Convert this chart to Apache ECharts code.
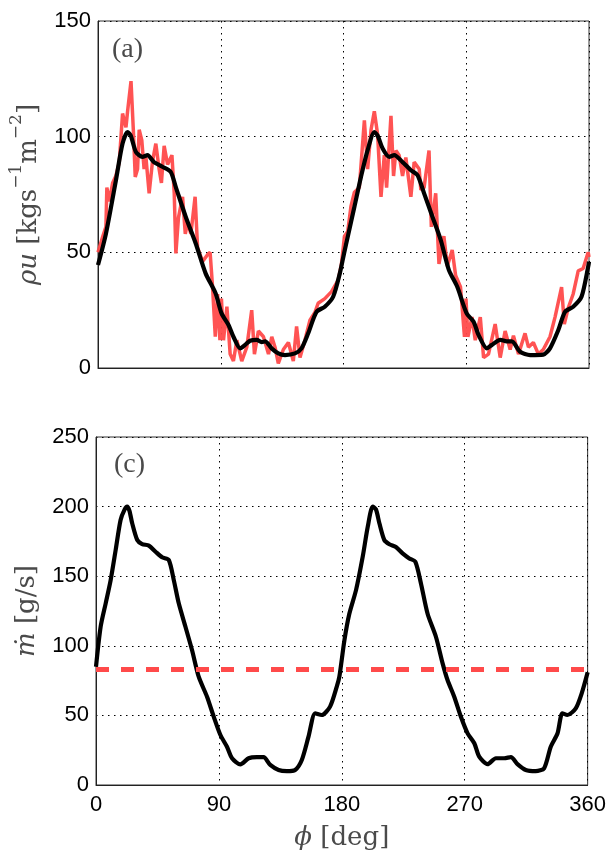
<!DOCTYPE html>
<html>
<head>
<meta charset="utf-8">
<script src="https://cdn.jsdelivr.net/npm/echarts@6/dist/echarts.min.js"></script>
<style>
  html, body { margin: 0; padding: 0; background: #fff; }
  #chart { width: 609px; height: 853px; }
</style>
</head>
<body>
<div id="chart"></div>
<script>
// panel (a): rho*u, raw (red) and filtered (black)
const rawPhi = [0, 3.4, 5.8, 6.5, 8.3, 10.7, 13.1, 15.6, 18, 20.5, 21.7, 24.2, 25.9, 27.3, 29, 30.2, 32.1, 33.8, 35, 37.5,
  39.9, 42.4, 44.8, 46.5, 48.5, 51, 54.2, 55.9, 57.1, 59, 62, 64, 65.7, 68.1, 71.2, 73, 76.7, 80.3, 82.2, 84,
  86, 87.7, 89.4, 90.5, 92, 94.5, 96.9, 99.3, 101.8, 105.4, 109.1, 112.7, 114.7, 117.6, 121.3, 125, 127.4, 129.8, 132.2, 135.9,
  139.6, 143.2, 145.6, 148.1, 151.7, 155.4, 159, 161.4, 166.3, 171.2, 176.1, 178.5, 180.7, 183.1, 185.5, 188, 191.6, 195.3, 197.7, 200.2,
  202.6, 205, 207.5, 209.9, 211.6, 214.8, 216.7, 218.4, 220.8, 223.3, 225.7, 229.4, 231.8, 235.5, 236.7, 239.1, 242.7, 244.4, 247.6, 250,
  253.6, 256.1, 259.7, 262.2, 265.8, 268.7, 269.8, 271.2, 274.2, 276.6, 280.3, 282.7, 286.3, 291.2, 294.9, 298.5, 302.2, 304.6, 308.3, 313.1,
  315.6, 319.2, 322.9, 326.5, 331.4, 335.1, 339.9, 341.9, 344.8, 348.4, 352.1, 355.7, 359.4, 360];
const rawRhoU = [50, 56.7, 61, 78, 72, 80, 83, 89, 110, 104, 111, 124, 103, 82.6, 86, 103, 98.5, 86, 92, 75.5,
  89, 97, 86, 80, 96, 88, 92, 75.5, 49.5, 65, 74, 58, 63, 58, 74, 52, 46, 49, 50, 35,
  13.5, 32, 12, 30, 12, 26.5, 6, 3, 12, 3, 9, 25, 6, 16, 13.5, 6, 13.5, 9, 2, 8,
  11, 3, 18, 4.5, 12, 20.7, 24, 28, 30, 33, 38, 45, 57, 59, 70, 76, 78, 107, 86, 103,
  111, 101, 74, 92, 78, 109, 83, 94, 92, 83, 91, 74, 89, 86, 77, 78, 94, 61, 75.5, 45,
  57, 44, 51, 40, 35, 13.5, 30, 13.5, 22, 12, 22, 4.5, 6, 19, 4.5, 16, 8, 14, 6, 15,
  9, 11, 6, 8, 13.5, 22, 35, 19, 26, 32, 42, 43, 50, 48];

const filtPhi = [0, 5.8, 13.1, 18, 21.7, 24, 27.8, 32.6, 36.3, 41, 47.2, 53.3, 57, 64.3, 71.6, 78.9, 86.2, 90.6, 95.7, 99.3,
  104.2, 107.9, 111.5, 116.4, 120, 122.5, 127.3, 132.2, 137.1, 144.4, 149.2, 154.1, 160.2, 166.3, 172.4, 177.3, 180.4, 183.1, 188, 192.8,
  197.7, 202.6, 205, 208.7, 213.5, 217.2, 223.3, 229.4, 234.2, 239.1, 245.2, 251.3, 257.3, 263.4, 270.3, 275.4, 279, 285.1, 288.8, 294.9,
  299.7, 303.4, 309.5, 316.8, 326.5, 331.4, 337.5, 342.4, 348.4, 354.5, 359.4, 360];
const filtRhoU = [44.5, 58, 81, 97, 102, 100.5, 93.4, 91.3, 92, 89, 87, 84.8, 78.3, 65.4, 53.9, 40.9, 32.3, 23.6, 18.6, 13.5,
  8.5, 10, 11.8, 12.2, 11.2, 11.5, 8.5, 6.3, 5.6, 6.3, 8.5, 15, 24.3, 26.5, 30.8, 40.9, 49.5, 56.7, 69.7, 82.6,
  94.2, 102, 100.5, 94.9, 91.3, 92, 89, 85.5, 83.4, 75.5, 65.4, 55.3, 42.3, 35.1, 23.6, 20, 14.3, 8.5, 10, 12.2,
  11.5, 11.5, 7, 5.6, 5.8, 8.5, 16.4, 24.3, 26.5, 30.8, 43.8, 46];

// panel (c): mass flow rate and its mean
const mdotPhi = [0, 3.4, 7.1, 10.7, 14.4, 18, 21, 22.8, 24.5, 26.5, 30.2, 33.8, 38.7, 43.6, 48.4, 53.3, 57, 60.6, 65.5, 70.3,
  75.2, 81.3, 86.2, 91.1, 95.9, 99.6, 105.7, 111.8, 117.8, 122.7, 127.6, 133.7, 139.7, 145.8, 150.7, 155.6, 160.5, 165.3, 171.4, 176.3,
  178.2, 181.9, 185.5, 190.4, 195.3, 199, 202.6, 205, 207.5, 211.1, 214.8, 219.6, 224.5, 229.4, 233.8, 237.9, 242.8, 248.9, 253.8, 257.4,
  262.3, 267.2, 272.1, 277, 280.6, 286.7, 292.8, 298.9, 303.8, 308.6, 314.7, 322, 328.1, 333, 337.9, 341.5, 345.2, 351.3, 355.7, 360];
const mdotVal = [85, 113.7, 130.5, 147, 168.8, 190.4, 198, 200, 197, 188, 176, 173.1, 172, 167.6, 163.6, 161.6, 147, 130.5, 113.7, 97,
  77.8, 63.4, 49.1, 35.9, 27.5, 19.2, 14.8, 19.2, 20, 20, 14.4, 10.8, 10, 10.8, 18, 34.7, 51.5, 50.3, 56.3, 70.6,
  77.8, 104, 123, 140, 164, 185.6, 200, 198, 188, 176, 173, 171, 166.4, 162.8, 160.4, 145, 123, 106.5, 87.4, 75.4,
  63.4, 49, 37.1, 30, 20.3, 15, 19.2, 19.2, 20, 15, 10.8, 10, 12, 27.5, 37, 51.5, 50.3, 55, 66, 81];
const mdotMean = 83;

const phiTicks = { min: 0, max: 360, interval: 90 };
const rhoUTicks = { min: 0, max: 150, interval: 50 };
const mdotTicks = { min: 0, max: 250, interval: 50 };

const zip = (xs, ys) => xs.map((x, i) => [x, ys[i]]);

const tickFont = { fontFamily: 'Liberation Sans', fontSize: 22, color: '#000' };
const nameCol = '#4a4a4a';
const dotted = { color: '#000', width: 1, type: [1.5, 4.5] };

const nameRich = {
  i: { fontFamily: 'DejaVu Serif', fontStyle: 'italic', fontSize: 26, lineHeight: 34, verticalAlign: 'bottom', color: nameCol },
  n: { fontFamily: 'DejaVu Serif', fontSize: 26, lineHeight: 34, verticalAlign: 'bottom', color: nameCol },
  s: { fontFamily: 'DejaVu Serif', fontSize: 17, lineHeight: 17, verticalAlign: 'top', color: nameCol }
};

function xAxis(gridIndex, withLabels) {
  return {
    type: 'value', gridIndex, ...phiTicks,
    axisLine: { show: true, lineStyle: { color: '#222', width: 1 } },
    axisTick: { show: false },
    axisLabel: withLabels ? { ...tickFont, margin: 9, showMinLabel: true, showMaxLabel: true } : { show: false },
    splitLine: { show: true, lineStyle: dotted },
    name: withLabels ? '{i|ϕ }{n|[deg]}' : '',
    nameLocation: 'middle', nameGap: 32,
    nameTextStyle: { fontSize: 26, rich: nameRich }
  };
}

function yAxis(gridIndex, ticks, name) {
  return {
    type: 'value', gridIndex, ...ticks,
    axisLine: { show: true, lineStyle: { color: '#222', width: 1 } },
    axisTick: { show: false },
    axisLabel: { ...tickFont, margin: 7, showMinLabel: true, showMaxLabel: true },
    splitLine: { show: true, lineStyle: dotted },
    name, nameLocation: 'middle', nameGap: 56, nameRotate: 90,
    nameTextStyle: { fontSize: 26, rich: nameRich }
  };
}

const chart = echarts.init(document.getElementById('chart'), null, { renderer: 'canvas' });
chart.setOption({
  animation: false,
  backgroundColor: '#fff',
  title: [
    { text: '(a)', left: 107, top: 31, textStyle: { fontFamily: 'Liberation Serif', fontWeight: 'normal', fontSize: 28, color: nameCol } },
    { text: '(c)', left: 109, top: 446, textStyle: { fontFamily: 'Liberation Serif', fontWeight: 'normal', fontSize: 28, color: nameCol } }
  ],
  grid: [
    { left: 96, right: 20, top: 21, height: 347, show: true, borderColor: '#333', borderWidth: 1 },
    { left: 96, right: 20, top: 437, height: 348, show: true, borderColor: '#333', borderWidth: 1 }
  ],
  xAxis: [xAxis(0, false), xAxis(1, true)],
  yAxis: [
    yAxis(0, rhoUTicks, '{i|ρu }{n|[kgs}{s|−1}{n|m}{s|−2}{n|]}'),
    yAxis(1, mdotTicks, '{i|ṁ }{n|[g/s]}')
  ],
  series: [
    {
      type: 'line', xAxisIndex: 0, yAxisIndex: 0, data: zip(rawPhi, rawRhoU),
      showSymbol: false, lineStyle: { color: '#ff4a4a', width: 3.5, opacity: 0.95 }
    },
    {
      type: 'line', xAxisIndex: 0, yAxisIndex: 0, data: zip(filtPhi, filtRhoU),
      showSymbol: false, smooth: 0.25, lineStyle: { color: '#000', width: 4.2 }
    },
    {
      type: 'line', xAxisIndex: 1, yAxisIndex: 1, data: zip(mdotPhi, mdotVal),
      showSymbol: false, smooth: 0.25, lineStyle: { color: '#000', width: 4.2 }
    },
    {
      type: 'line', xAxisIndex: 1, yAxisIndex: 1, data: [[phiTicks.min, mdotMean], [phiTicks.max, mdotMean]],
      showSymbol: false, lineStyle: { color: '#ff4a4a', width: 5, type: [13, 12] }
    }
  ]
});
</script>
</body>
</html>
